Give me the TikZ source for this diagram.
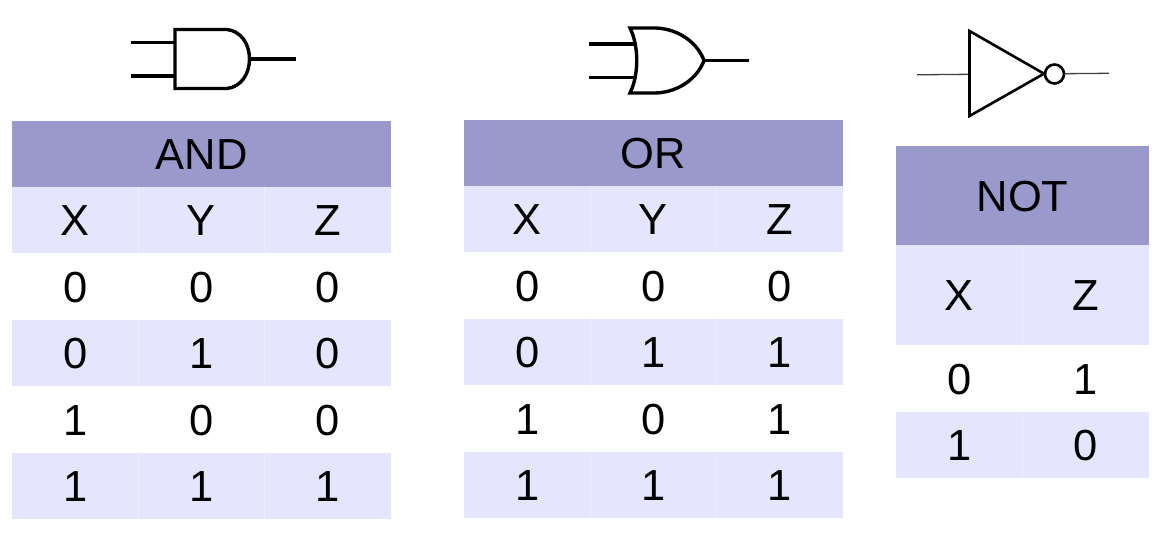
\documentclass[tikz,border=0pt]{standalone}
\usepackage{fontspec}
\setmainfont{Liberation Sans}
\definecolor{headfill}{HTML}{9999CC}
\definecolor{rowfill}{HTML}{E5E5FD}
\definecolor{sepline}{HTML}{EEEEFF}
\tikzset{
  celltext/.style={inner sep=0pt,outer sep=0pt,anchor=base,font=\fontsize{43.5}{43.5}\selectfont,text=black},
  gate/.style={line width=3.4pt,line join=miter,draw=black},
  wire/.style={line width=3.4pt,draw=black},
  thinwire/.style={line width=1.3pt,draw=black!75},
  sep/.style={line width=0.9pt,draw=sepline}
}
% \tcell{name}{x0}{x1}{y0}{y1}{fill}{text}
\newcommand{\tcell}[7]{%
  \fill[#6] (#2,#4) rectangle (#3,#5);
  \node[celltext] (#1) at ({(#2+#3)/2},{(#4+#5)/2+15.5}) {#7};
}
\begin{document}
\begin{tikzpicture}[x=1pt,y=-1pt]
\useasboundingbox (0,0) rectangle (1165,535);
% ---------- AND table
\tcell{ah}{12}{391}{121}{187}{headfill}{AND}
\tcell{ax}{12}{138.3}{187}{253}{rowfill}{X}
\tcell{ay}{138.3}{264.7}{187}{253}{rowfill}{Y}
\tcell{az}{264.7}{391}{187}{253}{rowfill}{Z}
\tcell{a1x}{12}{138.3}{253}{320}{white}{0}
\tcell{a1y}{138.3}{264.7}{253}{320}{white}{0}
\tcell{a1z}{264.7}{391}{253}{320}{white}{0}
\tcell{a2x}{12}{138.3}{320}{386}{rowfill}{0}
\tcell{a2y}{138.3}{264.7}{320}{386}{rowfill}{1}
\tcell{a2z}{264.7}{391}{320}{386}{rowfill}{0}
\tcell{a3x}{12}{138.3}{386}{453}{white}{1}
\tcell{a3y}{138.3}{264.7}{386}{453}{white}{0}
\tcell{a3z}{264.7}{391}{386}{453}{white}{0}
\tcell{a4x}{12}{138.3}{453}{519}{rowfill}{1}
\tcell{a4y}{138.3}{264.7}{453}{519}{rowfill}{1}
\tcell{a4z}{264.7}{391}{453}{519}{rowfill}{1}
\foreach \xx in {138.3,264.7} \foreach \ya/\yb in {187/253,320/386,453/519}
  \draw[sep] (\xx,\ya) -- (\xx,\yb);
% ---------- OR table
\tcell{oh}{464}{843}{120}{186}{headfill}{OR}
\tcell{ox}{464}{590.3}{186}{252}{rowfill}{X}
\tcell{oy}{590.3}{716.7}{186}{252}{rowfill}{Y}
\tcell{oz}{716.7}{843}{186}{252}{rowfill}{Z}
\tcell{o1x}{464}{590.3}{252}{319}{white}{0}
\tcell{o1y}{590.3}{716.7}{252}{319}{white}{0}
\tcell{o1z}{716.7}{843}{252}{319}{white}{0}
\tcell{o2x}{464}{590.3}{319}{385}{rowfill}{0}
\tcell{o2y}{590.3}{716.7}{319}{385}{rowfill}{1}
\tcell{o2z}{716.7}{843}{319}{385}{rowfill}{1}
\tcell{o3x}{464}{590.3}{385}{452}{white}{1}
\tcell{o3y}{590.3}{716.7}{385}{452}{white}{0}
\tcell{o3z}{716.7}{843}{385}{452}{white}{1}
\tcell{o4x}{464}{590.3}{452}{518}{rowfill}{1}
\tcell{o4y}{590.3}{716.7}{452}{518}{rowfill}{1}
\tcell{o4z}{716.7}{843}{452}{518}{rowfill}{1}
\foreach \xx in {590.3,716.7} \foreach \ya/\yb in {186/252,319/385,452/518}
  \draw[sep] (\xx,\ya) -- (\xx,\yb);
% ---------- NOT table
\tcell{nh}{896}{1149}{146}{245}{headfill}{NOT}
\tcell{nx}{896}{1022.5}{245}{345}{rowfill}{X}
\tcell{nz}{1022.5}{1149}{245}{345}{rowfill}{Z}
\tcell{n1x}{896}{1022.5}{345}{412}{white}{0}
\tcell{n1z}{1022.5}{1149}{345}{412}{white}{1}
\tcell{n2x}{896}{1022.5}{412}{478}{rowfill}{1}
\tcell{n2z}{1022.5}{1149}{412}{478}{rowfill}{0}
\foreach \ya/\yb in {245/345,412/478}
  \draw[sep] (1022.5,\ya) -- (1022.5,\yb);
% ---------- AND gate
\coordinate (andA) at (175,42.5);
\coordinate (andB) at (175,76);
\coordinate (andO) at (249.5,59);
\coordinate (andAin) at (131,42.5);
\coordinate (andBin) at (131,76);
\coordinate (andOut) at (295.5,59);
\draw[wire] (andAin) -- (andA);
\draw[wire] (andBin) -- (andB);
\draw[wire] (andO) -- (andOut);
\draw[gate] (175,29.5) -- (227,29.5) .. controls (241,31) and (249.5,44) .. (249.5,59)
  .. controls (249.5,74) and (241,87) .. (227,88.5) -- (175,88.5) -- cycle;
% ---------- OR gate
\coordinate (orA) at (635,44);
\coordinate (orB) at (635,77.5);
\coordinate (orO) at (704,60.5);
\coordinate (orAin) at (589,44);
\coordinate (orBin) at (589,77.5);
\coordinate (orOut) at (748.5,60.5);
\draw[wire] (orAin) -- (orA);
\draw[wire] (orBin) -- (orB);
\draw[wire] (orO) -- (orOut);
\draw[gate] (630,28) -- (656,28) .. controls (680,29) and (698,44) .. (704,60.5)
  .. controls (698,77) and (680,92) .. (656,93) -- (630,93)
  .. controls (639,75) and (639,46) .. (630,28) -- cycle;
% ---------- NOT gate
\coordinate (notIn) at (917,74.8);
\coordinate (notA) at (969.5,74.3);
\coordinate (notB) at (1064.5,73.7);
\coordinate (notOut) at (1109,73.3);
\draw[thinwire] (notIn) -- (notA);
\draw[thinwire] (notB) -- (notOut);
\draw[gate,line width=2.6pt] (969.5,31) -- (1044,73.7) -- (969.5,116) -- cycle;
\draw[gate,line width=2.6pt] (1054.5,74) circle (9.5);
\end{tikzpicture}
\end{document}
